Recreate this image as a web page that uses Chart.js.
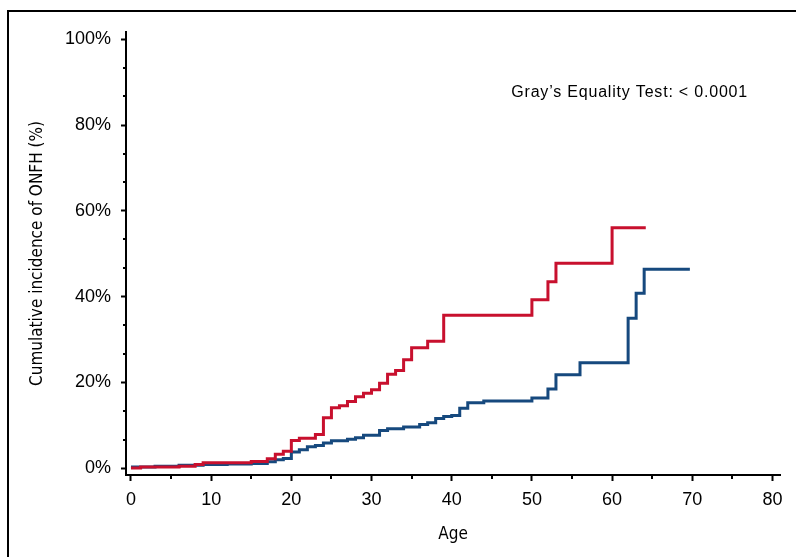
<!DOCTYPE html>
<html>
<head>
<meta charset="utf-8">
<script src="https://cdn.jsdelivr.net/npm/chart.js@4.4.1/dist/chart.umd.min.js"></script>
<style>
  html, body { margin: 0; padding: 0; background: #fff; }
  #wrap { position: relative; width: 796px; height: 557px; overflow: hidden; }
  #frame { position: absolute; left: 7px; top: 10px; right: -5px; bottom: -5px; border-top: 2px solid #000; border-left: 2px solid #000; }
  canvas { position: absolute; left: 0; top: 0; }
</style>
</head>
<body>
<div id="wrap">
  <div id="frame"></div>
  <canvas id="chart" width="796" height="557"></canvas>
</div>
<script>
// cumulative incidence curves (age, %)
var redAges = [0, 1.2, 6, 8, 9, 15, 17, 18, 19, 20, 21, 23, 24, 25, 26, 27, 28, 29, 30, 31, 32, 33, 34, 35, 37, 39, 50, 52, 53, 60, 64.2];
var redPct = [0.1, 0.3, 0.5, 0.9, 1.3, 1.6, 2.2, 3.3, 4.0, 6.5, 7.0, 7.9, 11.8, 14.1, 14.6, 15.6, 16.7, 17.5, 18.3, 19.8, 21.9, 22.8, 25.3, 28.1, 29.6, 35.7, 39.3, 43.5, 47.8, 56.1, 56.1];

var blueAges = [0, 3, 6, 9, 12, 15, 17, 18, 19, 20, 21, 22, 23, 24, 25, 27, 28, 29, 31, 32, 34, 36, 37, 38, 39, 40, 41, 42, 44, 50, 52, 53, 56, 62, 63, 64, 69.7];
var bluePct = [0.3, 0.5, 0.7, 0.9, 1.0, 1.1, 1.5, 2.0, 2.3, 3.8, 4.3, 5.0, 5.3, 5.9, 6.4, 6.8, 7.1, 7.7, 8.8, 9.2, 9.6, 10.2, 10.6, 11.6, 12.1, 12.3, 14.0, 15.3, 15.7, 16.4, 18.5, 21.8, 24.6, 35.0, 40.8, 46.4, 46.4];

var xTicks = [0, 10, 20, 30, 40, 50, 60, 70, 80];
var xMinor = [5, 15, 25, 35, 45, 55, 65, 75];
var yTicks = [0, 20, 40, 60, 80, 100];

var testText = 'Gray\u2019s Equality Test: < 0.0001';

function toPoints(ages, pct) {
    return ages.map(function (a, i) {
        return { x: a, y: pct[i] };
    });
}

var tickFont = { family: "'Liberation Sans', Arial, sans-serif", size: 18 };
var titleFont = { family: "'Liberation Sans Narrow', 'DejaVu Sans Condensed', sans-serif", size: 17 };

// short minor ticks + the test annotation
var extras = {
    id: 'extras',
    afterDraw: function (chart) {
        var ctx = chart.ctx;
        var xs = chart.scales.x;
        var ys = chart.scales.y;
        ctx.save();
        ctx.strokeStyle = '#000';
        ctx.lineWidth = 2;
        xMinor.forEach(function (v) {
            var px = Math.round(xs.getPixelForValue(v));
            ctx.beginPath();
            ctx.moveTo(px, xs.top);
            ctx.lineTo(px, xs.top + 4);
            ctx.stroke();
        });
        for (var i = 0; i < yTicks.length - 1; i++) {
            var step = (yTicks[i + 1] - yTicks[i]) / 3;
            [1, 2].forEach(function (k) {
                var py = Math.round(ys.getPixelForValue(yTicks[i] + step * k));
                ctx.beginPath();
                ctx.moveTo(ys.right, py);
                ctx.lineTo(ys.right - 3, py);
                ctx.stroke();
            });
        }
        ctx.fillStyle = '#000';
        ctx.font = "16px 'Liberation Sans', Arial, sans-serif";
        if ('letterSpacing' in ctx) ctx.letterSpacing = '0.8px';
        ctx.textAlign = 'right';
        ctx.textBaseline = 'alphabetic';
        ctx.fillText(testText, 748, 97);
        ctx.restore();
    }
};

var ctx = document.getElementById('chart').getContext('2d');
var myChart = new Chart(ctx, {
    type: 'line',
    data: {
        datasets: [{
            label: 'Red group',
            data: toPoints(redAges, redPct),
            borderColor: '#c8102e',
            borderWidth: 3,
            pointRadius: 0,
            stepped: true,
            fill: false
        }, {
            label: 'Blue group',
            data: toPoints(blueAges, bluePct),
            borderColor: '#16497e',
            borderWidth: 3,
            pointRadius: 0,
            stepped: true,
            fill: false
        }]
    },
    options: {
        responsive: false,
        animation: false,
        layout: { padding: { top: 32, right: 16, left: 0, bottom: 0 } },
        plugins: {
            legend: { display: false },
            tooltip: { enabled: false }
        },
        scales: {
            x: {
                type: 'linear',
                min: -0.62,
                max: 80.94,
                afterBuildTicks: function (s) {
                    s.ticks = xTicks.map(function (v) { return { value: v }; });
                },
                afterFit: function (s) { s.height = 82; },
                ticks: { font: tickFont, color: '#000', padding: 8, maxRotation: 0 },
                grid: { drawOnChartArea: false, drawTicks: true, tickLength: 6, tickWidth: 2, tickColor: '#000' },
                border: { display: true, color: '#000', width: 2 },
                title: { display: true, text: 'Age', color: '#000', font: titleFont, padding: { top: 0, bottom: 12 } }
            },
            y: {
                type: 'linear',
                min: -1.56,
                max: 101.7,
                afterBuildTicks: function (s) {
                    s.ticks = yTicks.map(function (v) { return { value: v }; });
                },
                afterFit: function (s) { s.width = 126; },
                ticks: {
                    font: tickFont, color: '#000', padding: 10,
                    callback: function (v) { return v + '%'; }
                },
                grid: { drawOnChartArea: false, drawTicks: true, tickLength: 5, tickWidth: 2, tickColor: '#000' },
                border: { display: true, color: '#000', width: 2 },
                title: { display: true, text: 'Cumulative incidence of ONFH (%)', color: '#000', font: titleFont, padding: { top: 27, bottom: 0 } }
            }
        }
    },
    plugins: [extras]
});
</script>
</body>
</html>
